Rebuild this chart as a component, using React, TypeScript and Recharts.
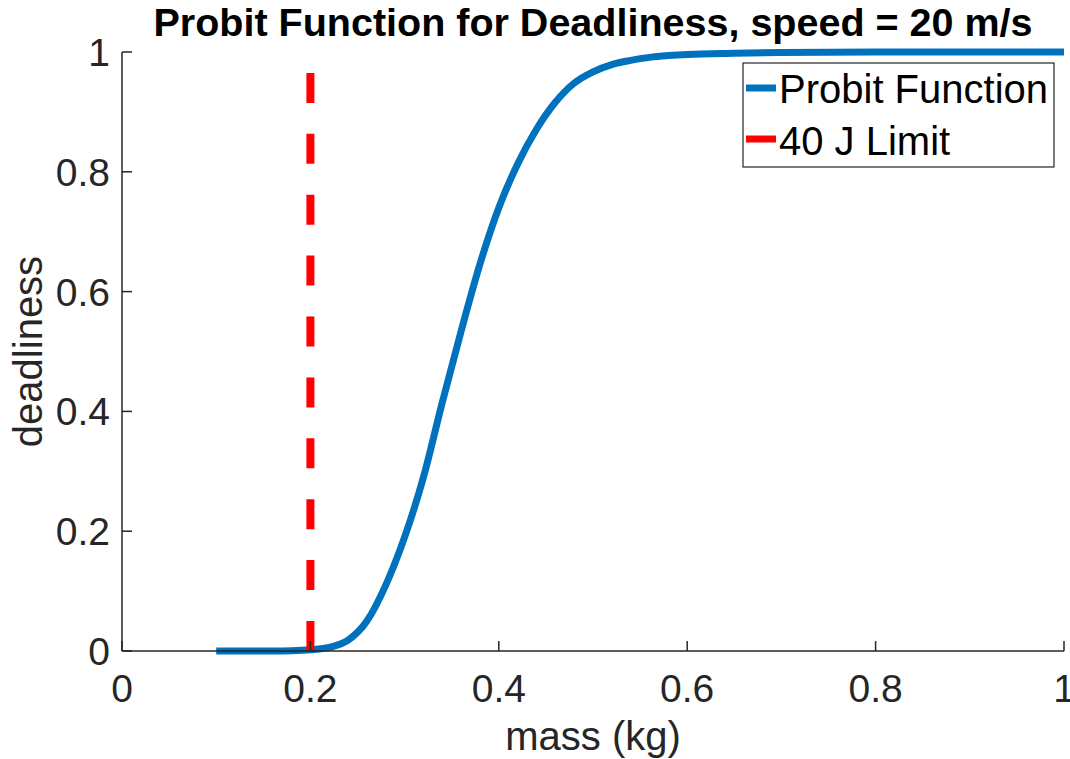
import React from "react";
import { LineChart, Line, XAxis, YAxis, Legend, Label } from "recharts";

const massValues = [0.10, 0.12, 0.14, 0.16, 0.18, 0.20, 0.22, 0.24, 0.26, 0.28, 0.30, 0.32, 0.34, 0.36, 0.38, 0.40, 0.42, 0.44, 0.46, 0.48, 0.50, 0.52, 0.54, 0.56, 0.58, 0.60, 0.65, 0.70, 0.80, 0.90, 1.00];
const deadlinessValues = [0, 0, 0, 0, 0.0004, 0.002, 0.006, 0.018, 0.05, 0.11, 0.19, 0.29, 0.415, 0.534, 0.646, 0.74, 0.813, 0.871, 0.916, 0.948, 0.967, 0.979, 0.986, 0.991, 0.994, 0.996, 0.998, 0.9993, 1, 1, 1];
const limitMass = [0.2, 0.2];
const limitDeadliness = [0, 1];
const xTicks = [0, 0.2, 0.4, 0.6, 0.8, 1];
const yTicks = [0, 0.2, 0.4, 0.6, 0.8, 1];
const tickLabels: Record<string, string> = { "0": "0", "0.2": "0.2", "0.4": "0.4", "0.6": "0.6", "0.8": "0.8", "1": "1" };
const titleText = "Probit Function for Deadliness, speed = 20 m/s";
const xLabelText = "mass (kg)";
const yLabelText = "deadliness";
const seriesNames = ["Probit Function", "40 J Limit"];

const probitData = massValues.map((m, i) => ({ m, d: deadlinessValues[i] }));
const limitData = limitMass.map((m, i) => ({ m, d: limitDeadliness[i] }));

const FONT = "'Liberation Sans', Arial, Helvetica, sans-serif";
const AX = "#262626";
const BLUE = "#0072BD";
const RED = "#FF0000";
const TICK_LEN = 10;

const W = 1070;
const H = 759;
const LEFT = 122;
const RIGHT = 1064;
const TOP = 52;
const BOTTOM = 651;

const BottomTick = (p: any) => (
  <g>
    <line x1={p.x} y1={p.y} x2={p.x} y2={p.y - TICK_LEN} stroke={AX} strokeWidth={1.5} />
    <text x={p.x} y={p.y + 51} textAnchor="middle" fontSize={39} fill={AX} fontFamily={FONT}>
      {tickLabels[String(p.payload.value)]}
    </text>
  </g>
);
const LeftTick = (p: any) => (
  <g>
    <line x1={p.x} y1={p.y} x2={p.x + TICK_LEN} y2={p.y} stroke={AX} strokeWidth={1.5} />
    <text x={p.x - 12} y={p.y + 14} textAnchor="end" fontSize={39} fill={AX} fontFamily={FONT}>
      {tickLabels[String(p.payload.value)]}
    </text>
  </g>
);
const TopTick = (p: any) => (
  <line x1={p.x} y1={p.y} x2={p.x} y2={p.y + TICK_LEN} stroke={AX} strokeWidth={1.5} />
);
const RightTick = (p: any) => (
  <line x1={p.x} y1={p.y} x2={p.x - TICK_LEN} y2={p.y} stroke={AX} strokeWidth={1.5} />
);

const renderLegend = () => (
  <svg width={314} height={108} style={{ display: "block" }}>
    <rect x={1} y={1} width={311} height={104} fill="#fff" stroke="#262626" strokeWidth={1.2} />
    <line x1={4} y1={26} x2={34} y2={26} stroke={BLUE} strokeWidth={7} />
    <text x={37} y={41} fontSize={40} fontFamily={FONT} fill="#000">{seriesNames[0]}</text>
    <line x1={4} y1={77} x2={34} y2={77} stroke={RED} strokeWidth={7} />
    <text x={37} y={93} fontSize={40} fontFamily={FONT} fill="#000">{seriesNames[1]}</text>
  </svg>
);

export default function App() {
  return (
    <div style={{ position: "absolute", left: 0, top: 0, width: W, height: H, background: "#fff" }}>
      <LineChart width={W} height={H} data={probitData} margin={{ top: TOP, right: W - RIGHT, bottom: 0, left: 0 }}>
        <XAxis
          xAxisId="bottom"
          dataKey="m"
          type="number"
          domain={[0, 1]}
          ticks={xTicks}
          orientation="bottom"
          height={H - BOTTOM}
          tickSize={0}
          tickMargin={0}
          tickLine={false}
          axisLine={{ stroke: AX, strokeWidth: 1.5 }}
          tick={BottomTick}
          interval={0}
        >
          <Label
            content={() => (
              <text x={(LEFT + RIGHT) / 2} y={750} textAnchor="middle" fontSize={40} fill={AX} fontFamily={FONT}>
                {xLabelText}
              </text>
            )}
          />
        </XAxis>
        <XAxis
          xAxisId="top"
          dataKey="m"
          type="number"
          domain={[0, 1]}
          ticks={xTicks}
          orientation="top"
          height={0}
          tickSize={0}
          tickMargin={0}
          tickLine={false}
          axisLine={{ stroke: AX, strokeWidth: 1.5 }}
          tick={TopTick}
          interval={0}
        />
        <YAxis
          yAxisId="left"
          type="number"
          domain={[0, 1]}
          ticks={yTicks}
          orientation="left"
          width={LEFT}
          tickSize={0}
          tickMargin={0}
          tickLine={false}
          axisLine={{ stroke: AX, strokeWidth: 1.5 }}
          tick={LeftTick}
          interval={0}
        >
          <Label
            content={() => (
              <g>
                <text
                  x={42}
                  y={(TOP + BOTTOM) / 2}
                  transform={`rotate(-90 42 ${(TOP + BOTTOM) / 2})`}
                  textAnchor="middle"
                  fontSize={40}
                  fill={AX}
                  fontFamily={FONT}
                >
                  {yLabelText}
                </text>
                <text x={(LEFT + RIGHT) / 2} y={36} textAnchor="middle" fontSize={39.5} fontWeight="bold" fill="#000" fontFamily={FONT}>
                  {titleText}
                </text>
              </g>
            )}
          />
        </YAxis>
        <YAxis
          yAxisId="right"
          type="number"
          domain={[0, 1]}
          ticks={yTicks}
          orientation="right"
          width={0}
          tickSize={0}
          tickMargin={0}
          tickLine={false}
          axisLine={{ stroke: AX, strokeWidth: 1.5 }}
          tick={RightTick}
          interval={0}
        />
        <Line
          xAxisId="bottom"
          yAxisId="left"
          data={probitData}
          dataKey="d"
          type="monotone"
          stroke={BLUE}
          strokeWidth={7}
          dot={false}
          isAnimationActive={false}
          name={seriesNames[0]}
        />
        <Line
          xAxisId="top"
          yAxisId="right"
          data={limitData}
          dataKey="d"
          type="linear"
          stroke={RED}
          strokeWidth={8}
          strokeDasharray="30 30.9"
          dot={false}
          isAnimationActive={false}
          name={seriesNames[1]}
        />
        <Legend
          layout="vertical"
          align="center"
          verticalAlign="middle"
          content={renderLegend}
          wrapperStyle={{ position: "absolute", left: 742, top: 62, width: 314, height: 108 }}
        />
      </LineChart>
    </div>
  );
}
